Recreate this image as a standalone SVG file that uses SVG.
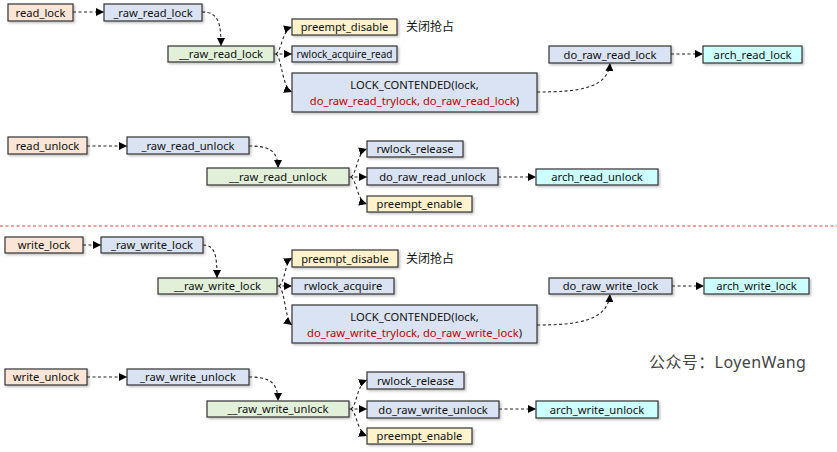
<svg xmlns="http://www.w3.org/2000/svg" width="837" height="452" viewBox="0 0 837 452">
<defs>
<marker id="ah" viewBox="0 0 8 8" refX="8" refY="4" markerWidth="8" markerHeight="8" markerUnits="userSpaceOnUse" orient="auto">
<path d="M0,0 L8,4 L0,8 Z" fill="#000"/>
</marker>
<filter id="sh" x="-10%" y="-20%" width="130%" height="160%">
<feDropShadow dx="1.5" dy="1.5" stdDeviation="0.8" flood-color="#000" flood-opacity="0.25"/>
</filter>
</defs>
<style>
rect.n{stroke:#333;stroke-width:1.2;filter:url(#sh)}
.or{fill:#fbe5d6}.bl{fill:#dae3f3}.gr{fill:#e2f0d9}.ye{fill:#fff2cc}.cy{fill:#ccffff}
text{font-family:"Noto Sans","DejaVu Sans",sans-serif;font-size:11.2px;fill:#111}
text.c{text-anchor:middle}
.red{fill:#c00000}
.cn{font-family:"Noto Sans CJK SC",sans-serif;font-size:12px}
.wm{font-family:"Noto Sans","Noto Sans CJK SC",sans-serif;font-size:16px;fill:#444;letter-spacing:0.4px}
#edges path{fill:none;stroke:#222;stroke-width:1.1;stroke-dasharray:3,2.5;marker-end:url(#ah)}
</style>

<g id="edges">
<path d="M73,12 L104,12"/>
<path d="M202,12 C218,12 221,22 221,46"/>
<path d="M276,54 C282,50 282,30 292,27"/>
<path d="M274,54 L292,54"/>
<path d="M276,54 C282,58 282,88 292,92"/>
<path d="M537,92 C580,92 608,88 610,63"/>
<path d="M671,54 L703,54"/>

<path d="M87,146 L127,146"/>
<path d="M249,146 C268,146 278,150 278,168"/>
<path d="M351,177 C357,173 357,152 367,149"/>
<path d="M349,177 L367,177"/>
<path d="M351,177 C357,181 357,201 367,204"/>
<path d="M498,177 L536,177"/>

<path d="M83,245 L101,245"/>
<path d="M203,245 C215,245 217,255 217,278"/>
<path d="M279,286 C285,282 285,262 292,258"/>
<path d="M277,286 L292,286"/>
<path d="M279,286 C285,290 285,320 292,325"/>
<path d="M537,325 C580,325 608,320 610,294"/>
<path d="M672,286 L704,286"/>

<path d="M87,377 L127,377"/>
<path d="M249,377 C268,377 278,381 278,401"/>
<path d="M351,409 C357,405 357,384 367,380"/>
<path d="M349,409 L367,409"/>
<path d="M351,409 C357,413 357,432 367,436"/>
<path d="M499,409 L536,409"/>
</g>

<line x1="0" y1="226" x2="837" y2="226" stroke="#e04040" stroke-width="1" stroke-dasharray="3,2.5"/>

<g id="read_lock"><rect class="n or" x="8" y="4" width="65" height="17"/><text class="c" x="40.5" y="16.5">read_lock</text></g>
<g id="_raw_read_lock"><rect class="n bl" x="104" y="4" width="98" height="17"/><text class="c" x="153" y="16.5">_raw_read_lock</text></g>
<g id="__raw_read_lock"><rect class="n gr" x="168" y="46" width="106" height="16"/><text class="c" x="221" y="58">__raw_read_lock</text></g>
<g id="preempt_disable_r"><rect class="n ye" x="292" y="19" width="105" height="16"/><text class="c" x="344.5" y="31">preempt_disable</text></g>
<text class="cn" x="406" y="31">关闭抢占</text>
<g id="rwlock_acquire_read"><rect class="n bl" x="292" y="46" width="105" height="16"/><text class="c" x="344.5" y="58" style="font-size:10px">rwlock_acquire_read</text></g>
<g id="lock_contended_r"><rect class="n bl" x="292" y="73" width="245" height="39"/><text class="c" x="414.5" y="89">LOCK_CONTENDED(lock,</text><text class="c" x="414.5" y="105"><tspan class="red">do_raw_read_trylock, do_raw_read_lock</tspan>)</text></g>
<g id="do_raw_read_lock"><rect class="n bl" x="549" y="46" width="122" height="17"/><text class="c" x="610" y="58.5">do_raw_read_lock</text></g>
<g id="arch_read_lock"><rect class="n cy" x="703" y="46" width="99" height="17"/><text class="c" x="752.5" y="58.5">arch_read_lock</text></g>

<g id="read_unlock"><rect class="n or" x="8" y="137" width="79" height="17"/><text class="c" x="47.5" y="149.5">read_unlock</text></g>
<g id="_raw_read_unlock"><rect class="n bl" x="127" y="137" width="122" height="17"/><text class="c" x="188" y="149.5">_raw_read_unlock</text></g>
<g id="__raw_read_unlock"><rect class="n gr" x="207" y="168" width="142" height="17"/><text class="c" x="278" y="180.5">__raw_read_unlock</text></g>
<g id="rwlock_release_r"><rect class="n bl" x="367" y="141" width="96" height="16"/><text class="c" x="415" y="153">rwlock_release</text></g>
<g id="do_raw_read_unlock"><rect class="n bl" x="367" y="168" width="131" height="17"/><text class="c" x="432.5" y="180.5">do_raw_read_unlock</text></g>
<g id="preempt_enable_r"><rect class="n ye" x="367" y="196" width="105" height="16"/><text class="c" x="419.5" y="208">preempt_enable</text></g>
<g id="arch_read_unlock"><rect class="n cy" x="536" y="169" width="122" height="16"/><text class="c" x="597" y="181">arch_read_unlock</text></g>

<g id="write_lock"><rect class="n or" x="5" y="237" width="78" height="16"/><text class="c" x="44" y="249">write_lock</text></g>
<g id="_raw_write_lock"><rect class="n bl" x="101" y="237" width="102" height="16"/><text class="c" x="152" y="249">_raw_write_lock</text></g>
<g id="__raw_write_lock"><rect class="n gr" x="158" y="278" width="119" height="16"/><text class="c" x="217.5" y="290">__raw_write_lock</text></g>
<g id="preempt_disable_w"><rect class="n ye" x="292" y="250" width="106" height="17"/><text class="c" x="345" y="262.5">preempt_disable</text></g>
<text class="cn" x="406" y="263">关闭抢占</text>
<g id="rwlock_acquire"><rect class="n bl" x="292" y="278" width="102" height="16"/><text class="c" x="343" y="290">rwlock_acquire</text></g>
<g id="lock_contended_w"><rect class="n bl" x="292" y="305" width="245" height="38"/><text class="c" x="414.5" y="321">LOCK_CONTENDED(lock,</text><text class="c" x="414.5" y="337"><tspan class="red">do_raw_write_trylock, do_raw_write_lock</tspan>)</text></g>
<g id="do_raw_write_lock"><rect class="n bl" x="549" y="278" width="123" height="16"/><text class="c" x="610.5" y="290">do_raw_write_lock</text></g>
<g id="arch_write_lock"><rect class="n cy" x="704" y="278" width="105" height="16"/><text class="c" x="756.5" y="290">arch_write_lock</text></g>

<g id="write_unlock"><rect class="n or" x="5" y="369" width="82" height="16"/><text class="c" x="46" y="381">write_unlock</text></g>
<g id="_raw_write_unlock"><rect class="n bl" x="127" y="369" width="122" height="16"/><text class="c" x="188" y="381">_raw_write_unlock</text></g>
<g id="__raw_write_unlock"><rect class="n gr" x="207" y="401" width="142" height="16"/><text class="c" x="278" y="413">__raw_write_unlock</text></g>
<g id="rwlock_release_w"><rect class="n bl" x="367" y="372" width="97" height="17"/><text class="c" x="415.5" y="384.5">rwlock_release</text></g>
<g id="do_raw_write_unlock"><rect class="n bl" x="367" y="401" width="132" height="17"/><text class="c" x="433" y="413.5">do_raw_write_unlock</text></g>
<g id="preempt_enable_w"><rect class="n ye" x="367" y="428" width="105" height="16"/><text class="c" x="419.5" y="440">preempt_enable</text></g>
<g id="arch_write_unlock"><rect class="n cy" x="536" y="401" width="122" height="17"/><text class="c" x="597" y="413.5">arch_write_unlock</text></g>

<text class="wm" x="649" y="368">公众号：LoyenWang</text>
</svg>
